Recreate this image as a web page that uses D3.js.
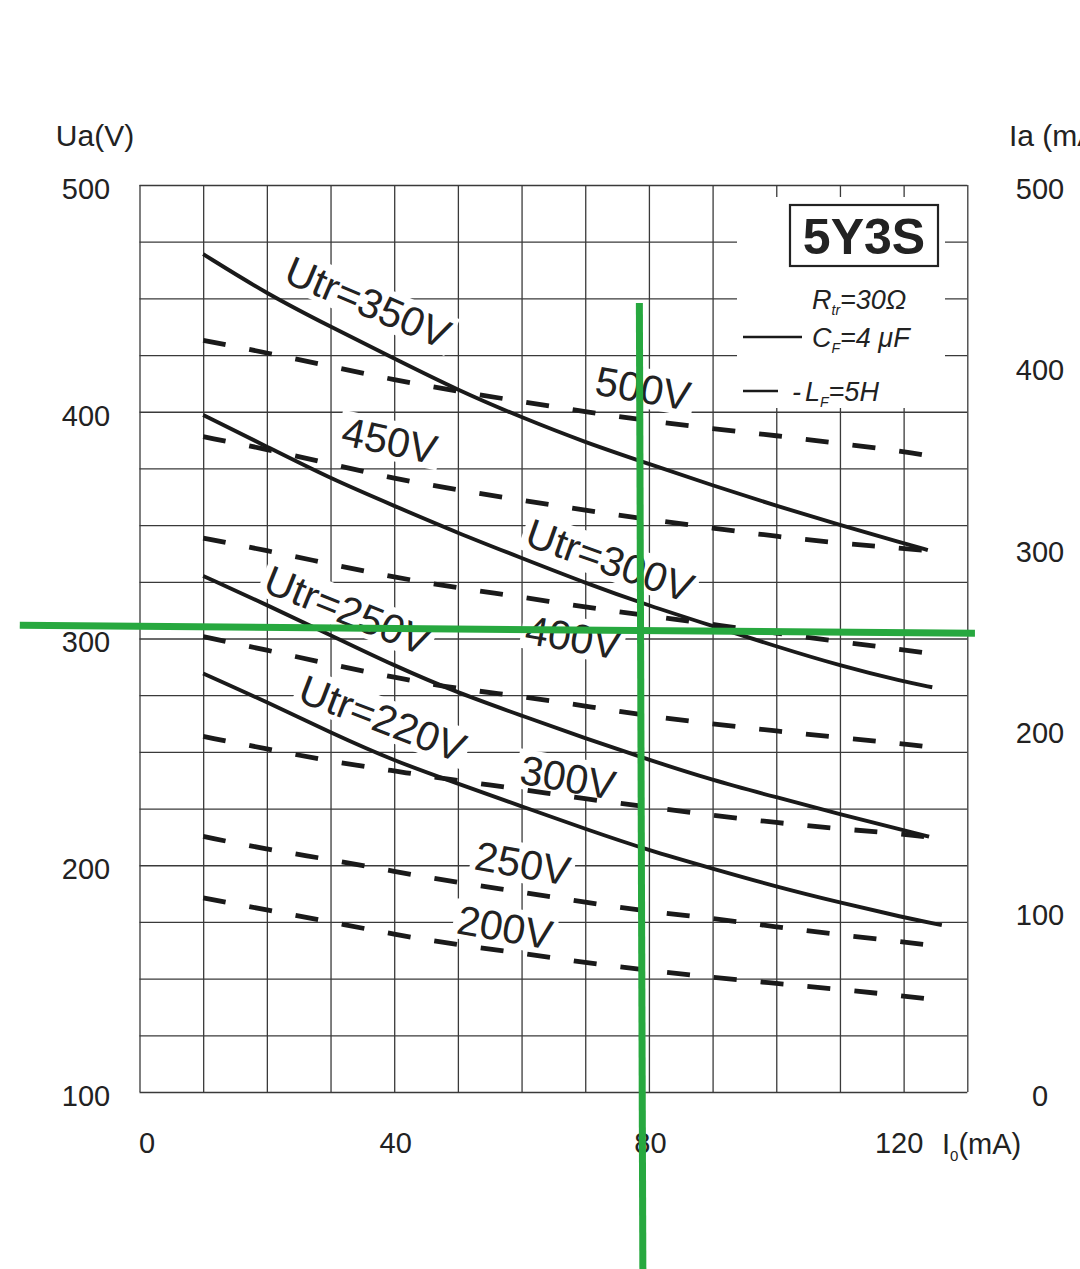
<!DOCTYPE html>
<html><head><meta charset="utf-8">
<script src="https://cdn.jsdelivr.net/npm/d3@7"></script>
<style>
html,body{margin:0;padding:0;background:#fff;}
svg{display:block;}
text{font-family:"Liberation Sans",Arial,Helvetica,sans-serif;fill:#222;}
</style></head><body>
<svg id="chart" width="1080" height="1269"></svg>
<script>
// ---------- data ----------
const currentMA = [10, 20, 30, 40, 50, 60, 70, 80, 90, 100, 110, 120];

// solid curves (C_F = 4 µF), Ua in volts at currentMA, plus end point
const solidNames = ["Utr=350V", "Utr=300V", "Utr=250V", "Utr=220V"];
const solid350 = [469.5, 452, 437.5, 423.5, 409.5, 397.5, 386.5, 377, 367.5, 358.5, 350, 342];
const solid300 = [398.6, 384.6, 370.5, 358.5, 346.5, 335.5, 324.5, 314.5, 305.5, 296.5, 288, 281];
const solid250 = [327.6, 314.8, 301.5, 288, 276, 266, 256, 246.5, 237.5, 230, 222.5, 215.5];
const solid220 = [284.6, 272, 258.5, 246, 236, 226, 216, 206.5, 198.5, 190.5, 183.5, 177];
const solidEndMA = [123.8, 124.5, 124, 126];
const solidEndV = [339, 278.5, 212.6, 173.6];

// dashed curves (L_F = 5 H)
const dashedNames = ["500V", "450V", "400V", "350V", "300V", "250V", "200V"];
const dashed500 = [431.5, 426, 420, 414, 409, 404.5, 400, 396, 392.5, 389.5, 386, 382.5];
const dashed450 = [389, 383.5, 377, 370.5, 365.5, 361, 356.5, 352.5, 348.7, 345, 342, 339.7];
const dashed400 = [344.3, 338.8, 332.8, 327, 322.3, 318.3, 313.8, 310, 306.2, 302.4, 298.6, 295];
const dashed350 = [300.8, 294.9, 288.6, 282.8, 277.8, 274.5, 270.2, 265.8, 262.3, 259.2, 256.3, 253.6];
const dashed300 = [256.8, 251.3, 245.8, 241.6, 237.3, 233.5, 229.2, 225.7, 222, 218.8, 216, 213.8];
const dashed250 = [212.7, 207, 202.5, 197.3, 192.3, 188.2, 183.6, 179.6, 176.6, 172.8, 169.3, 166.2];
const dashed200 = [185.6, 180.3, 175, 169.5, 164.8, 161.3, 157, 153.6, 150.5, 147.9, 145.2, 142.4];
const dashedEndMA = [124, 124.5, 124.5, 124.5, 124.5, 124, 125];
const dashedEndV = [380.5, 338.6, 293.2, 251.9, 212.2, 164.8, 140.6];

// axis ticks
const uaTicks = [100, 200, 300, 400, 500];
const iaTicks = [0, 100, 200, 300, 400, 500];
const i0Ticks = [0, 40, 80, 120];

// curve labels
const labelText = ["Utr=350V", "500V", "450V", "Utr=300V", "400V", "Utr=250V", "Utr=220V", "300V", "250V", "200V"];
const labelMA = [35.9, 79.1, 39.3, 73.9, 68.1, 32.7, 38.2, 67.3, 60.2, 57.4];
const labelV = [448.4, 410.5, 387.5, 334.6, 300.7, 312.6, 264.9, 238.9, 201, 172.8];
const labelAngle = [23, 10, 12, 19.5, 10, 22, 21, 10, 10, 10];

// green annotation cross-hair (in data units)
const markerVerticalMA = [78.5, 79.05];
const markerVerticalV = [448, 21.9];
const markerHorizontalMA = [-18.8, 131.2];
const markerHorizontalV = [305.8, 302.3];

// ---------- layout ----------
const svg = d3.select("#chart");
const x = d3.scaleLinear().domain([0, 130]).range([139.5, 967.3]);
const y = d3.scaleLinear().domain([100, 500]).range([1092, 185]);
const yR = d3.scaleLinear().domain([0, 500]).range([1092, 185]);
const plotW = x(130) - x(0), plotH = y(100) - y(500);

// grid
const grid = svg.append("g");
grid.append("g").attr("transform", `translate(0,${y(100)})`)
  .call(d3.axisBottom(x).tickValues(d3.range(0, 131, 10)).tickSize(-plotH).tickFormat(""))
  .call(g => g.select(".domain").remove())
  .call(g => g.selectAll("line").attr("stroke", "#3a3a3a").attr("stroke-width", 1.3));
grid.append("g").attr("transform", `translate(${x(0)},0)`)
  .call(d3.axisLeft(y).tickValues(d3.range(100, 501, 25)).tickSize(-plotW).tickFormat(""))
  .call(g => g.select(".domain").remove())
  .call(g => g.selectAll("line").attr("stroke", "#3a3a3a").attr("stroke-width", 1.3));

// label backgrounds layer, legend bg
const labelBgLayer = svg.append("g");
svg.append("rect").attr("x", 737).attr("y", 197).attr("width", 208).attr("height", 211).attr("fill", "#fff");

// curves
const line = d3.line().x(d => x(d[0])).y(d => y(d[1])).curve(d3.curveBasis);
const solidSeries = [solid350, solid300, solid250, solid220];
const dashedSeries = [dashed500, dashed450, dashed400, dashed350, dashed300, dashed250, dashed200];
const curves = svg.append("g").attr("fill", "none");
solidSeries.forEach((vals, i) => {
  const pts = currentMA.map((c, k) => [c, vals[k]]).concat([[solidEndMA[i], solidEndV[i]]]);
  curves.append("path").attr("d", line(pts)).attr("stroke", "#1a1a1a").attr("stroke-width", 3.9)
    .attr("data-name", solidNames[i]);
});
dashedSeries.forEach((vals, i) => {
  const pts = currentMA.map((c, k) => [c, vals[k]]).concat([[dashedEndMA[i], dashedEndV[i]]]);
  curves.append("path").attr("d", line(pts)).attr("stroke", "#1a1a1a").attr("stroke-width", 4.8)
    .attr("stroke-dasharray", "23,24").attr("data-name", dashedNames[i]);
});

// curve labels
const labelLayer = svg.append("g");
labelText.forEach((t, i) => {
  const g = labelLayer.append("g")
    .attr("transform", `translate(${x(labelMA[i])},${y(labelV[i])}) rotate(${labelAngle[i]})`);
  const txt = g.append("text").attr("text-anchor", "middle").attr("dy", "0.36em")
    .attr("font-size", 41).text(t);
  const w = txt.node().getComputedTextLength();
  labelBgLayer.append("rect")
    .attr("transform", `translate(${x(labelMA[i])},${y(labelV[i])}) rotate(${labelAngle[i]})`)
    .attr("x", -w / 2 - 4).attr("y", -20).attr("width", w + 8).attr("height", 40).attr("fill", "#fff");
});

// axes labels
const axes = svg.append("g");
axes.append("g").attr("transform", `translate(${x(0)},0)`)
  .call(d3.axisLeft(y).tickValues(uaTicks).tickSize(0).tickPadding(0))
  .call(g => g.select(".domain").remove())
  .call(g => g.selectAll("text").attr("x", 86 - x(0)).attr("text-anchor", "middle").attr("dy", "0.36em")
    .attr("y", 3).attr("font-size", 29).attr("font-family", null).attr("fill", "#222"));
axes.append("g").attr("transform", `translate(${x(130)},0)`)
  .call(d3.axisRight(yR).tickValues(iaTicks).tickSize(0).tickPadding(0))
  .call(g => g.select(".domain").remove())
  .call(g => g.selectAll("text").attr("x", 1040 - x(130)).attr("text-anchor", "middle").attr("dy", "0.36em")
    .attr("y", 3).attr("font-size", 29).attr("font-family", null).attr("fill", "#222"));
axes.append("g").attr("transform", `translate(0,${y(100)})`)
  .call(d3.axisBottom(x).tickValues(i0Ticks).tickSize(0).tickPadding(0))
  .call(g => g.select(".domain").remove())
  .call(g => g.selectAll(".tick").each(function(d) {
    d3.select(this).select("text").attr("y", 51).attr("dy", "0.36em")
      .attr("x", d === 0 ? 7 : (d === 120 ? -5 : 1))
      .attr("font-size", 29).attr("font-family", null).attr("fill", "#222");
  }));

svg.append("text").attr("x", 95).attr("y", 135).attr("dy", "0.36em").attr("text-anchor", "middle")
  .attr("font-size", 30).text("Ua(V)");
svg.append("text").attr("x", 1009).attr("y", 135).attr("dy", "0.36em")
  .attr("font-size", 30).text("Ia (mA)");
const i0t = svg.append("text").attr("x", 942).attr("y", 1154).attr("font-size", 29);
i0t.append("tspan").text("I");
i0t.append("tspan").attr("font-size", 15).attr("dy", 7).text("0");
i0t.append("tspan").attr("dy", -7).text("(mA)");

// legend
const lg = svg.append("g");
lg.append("rect").attr("x", 790).attr("y", 205).attr("width", 148).attr("height", 61)
  .attr("fill", "#fff").attr("stroke", "#222").attr("stroke-width", 2.2);
lg.append("text").attr("x", 864).attr("y", 254).attr("text-anchor", "middle")
  .attr("font-size", 50).attr("font-weight", "bold").text("5Y3S");
const r = lg.append("text").attr("x", 812).attr("y", 309).attr("font-size", 27).attr("font-style", "italic");
r.append("tspan").text("R");
r.append("tspan").attr("font-size", 14).attr("dy", 6).text("tr");
r.append("tspan").attr("dy", -6).text("=30Ω");
lg.append("line").attr("x1", 743).attr("x2", 802).attr("y1", 337).attr("y2", 337)
  .attr("stroke", "#1a1a1a").attr("stroke-width", 2.6);
const c = lg.append("text").attr("x", 812).attr("y", 347).attr("font-size", 27).attr("font-style", "italic");
c.append("tspan").text("C");
c.append("tspan").attr("font-size", 14).attr("dy", 6).text("F");
c.append("tspan").attr("dy", -6).text("=4 μF");
lg.append("line").attr("x1", 743).attr("x2", 778).attr("y1", 391).attr("y2", 391)
  .attr("stroke", "#1a1a1a").attr("stroke-width", 2.6);
const l = lg.append("text").attr("x", 792).attr("y", 401).attr("font-size", 27).attr("font-style", "italic");
l.append("tspan").text("-");
l.append("tspan").attr("dx", 4).text("L");
l.append("tspan").attr("font-size", 14).attr("dy", 6).text("F");
l.append("tspan").attr("dy", -6).text("=5H");

// green annotation lines
const green = svg.append("g").attr("stroke", "#27a83f").attr("stroke-width", 7);
green.append("line")
  .attr("x1", x(markerHorizontalMA[0])).attr("y1", y(markerHorizontalV[0]))
  .attr("x2", x(markerHorizontalMA[1])).attr("y2", y(markerHorizontalV[1]));
green.append("line")
  .attr("x1", x(markerVerticalMA[0])).attr("y1", y(markerVerticalV[0]))
  .attr("x2", x(markerVerticalMA[1])).attr("y2", y(markerVerticalV[1]));
</script>
</body></html>
